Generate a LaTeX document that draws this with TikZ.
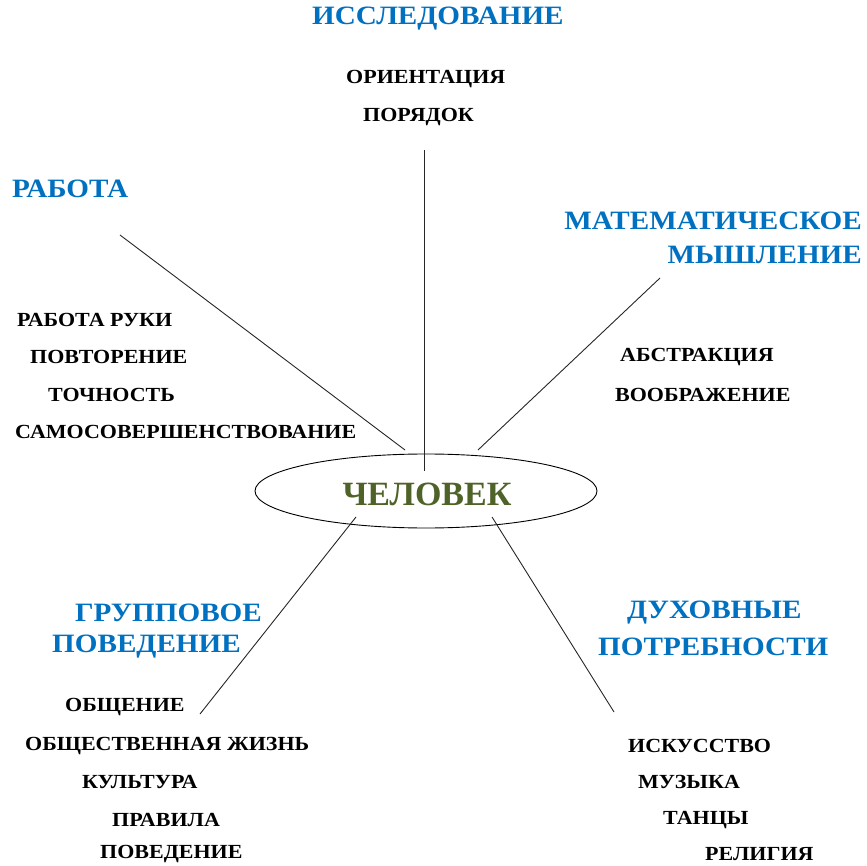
\documentclass[tikz,border=0pt]{standalone}
\usepackage{fontspec}
\setmainfont{Liberation Serif}
\newfontfamily\widefont[FakeStretch=1.1]{Liberation Serif}
\definecolor{headblue}{HTML}{0070C0}
\definecolor{mangreen}{HTML}{4F6228}
\tikzset{
  item/.style={font=\widefont\fontsize{20}{22}\selectfont\bfseries, text=black, inner sep=0pt, anchor=west, yshift=-2pt},
  head/.style={font=\widefont\fontsize{26.5}{29}\selectfont\bfseries, text=headblue, inner sep=0pt, anchor=west, yshift=-1pt},
  spoke/.style={draw=black!85, line width=0.9pt},
}
\begin{document}
\begin{tikzpicture}[x=1pt,y=-1pt]
\useasboundingbox (0,0) rectangle (867,866);
% centre
\draw[line width=0.9pt] (426,491) ellipse [x radius=171, y radius=37];
\node[font=\fontsize{34}{38}\selectfont\bfseries, text=mangreen, inner sep=0pt] (man) at (427,494) {ЧЕЛОВЕК};
% headings
\node[head] (h1) at (312,18) {ИССЛЕДОВАНИЕ};
\node[head] (h2) at (12,188) {РАБОТА};
\node[head, anchor=east] (h3a) at (862,220) {МАТЕМАТИЧЕСКОЕ};
\node[head, anchor=east] (h3b) at (862,254) {МЫШЛЕНИЕ};
\node[head] (h4a) at (75,612) {ГРУППОВОЕ};
\node[head] (h4b) at (52,646) {ПОВЕДЕНИЕ};
\node[head] (h5a) at (627,612) {ДУХОВНЫЕ};
\node[head] (h5b) at (598,646) {ПОТРЕБНОСТИ};
% items
\node[item] (i1) at (346,77) {ОРИЕНТАЦИЯ};
\node[item] (i2) at (363,115) {ПОРЯДОК};
\node[item] (w1) at (17,318) {РАБОТА РУКИ};
\node[item] (w2) at (30,355) {ПОВТОРЕНИЕ};
\node[item] (w3) at (48,393) {ТОЧНОСТЬ};
\node[item] (w4) at (15,430) {САМОСОВЕРШЕНСТВОВАНИЕ};
\node[item] (m1) at (620,355) {АБСТРАКЦИЯ};
\node[item] (m2) at (615,393) {ВООБРАЖЕНИЕ};
\node[item] (g1) at (65,705) {ОБЩЕНИЕ};
\node[item] (g2) at (25,744) {ОБЩЕСТВЕННАЯ ЖИЗНЬ};
\node[item] (g3) at (82,780) {КУЛЬТУРА};
\node[item] (g4) at (112,818) {ПРАВИЛА};
\node[item] (g5) at (100,852) {ПОВЕДЕНИЕ};
\node[item] (s1) at (628,744) {ИСКУССТВО};
\node[item] (s2) at (638,780) {МУЗЫКА};
\node[item] (s3) at (663,818) {ТАНЦЫ};
\node[item] (s4) at (705,852) {РЕЛИГИЯ};
% spoke endpoints
\coordinate (a1) at (424,150); \coordinate (b1) at (424,471);
\coordinate (a2) at (120,235); \coordinate (b2) at (405,450);
\coordinate (a3) at (660,278); \coordinate (b3) at (478,450);
\coordinate (a4) at (200,714); \coordinate (b4) at (356,517);
\coordinate (a5) at (614,712); \coordinate (b5) at (492,517);
\draw[spoke] (a1) -- (b1);
\draw[spoke] (a2) -- (b2);
\draw[spoke] (a3) -- (b3);
\draw[spoke] (a4) -- (b4);
\draw[spoke] (a5) -- (b5);
\end{tikzpicture}
\end{document}
